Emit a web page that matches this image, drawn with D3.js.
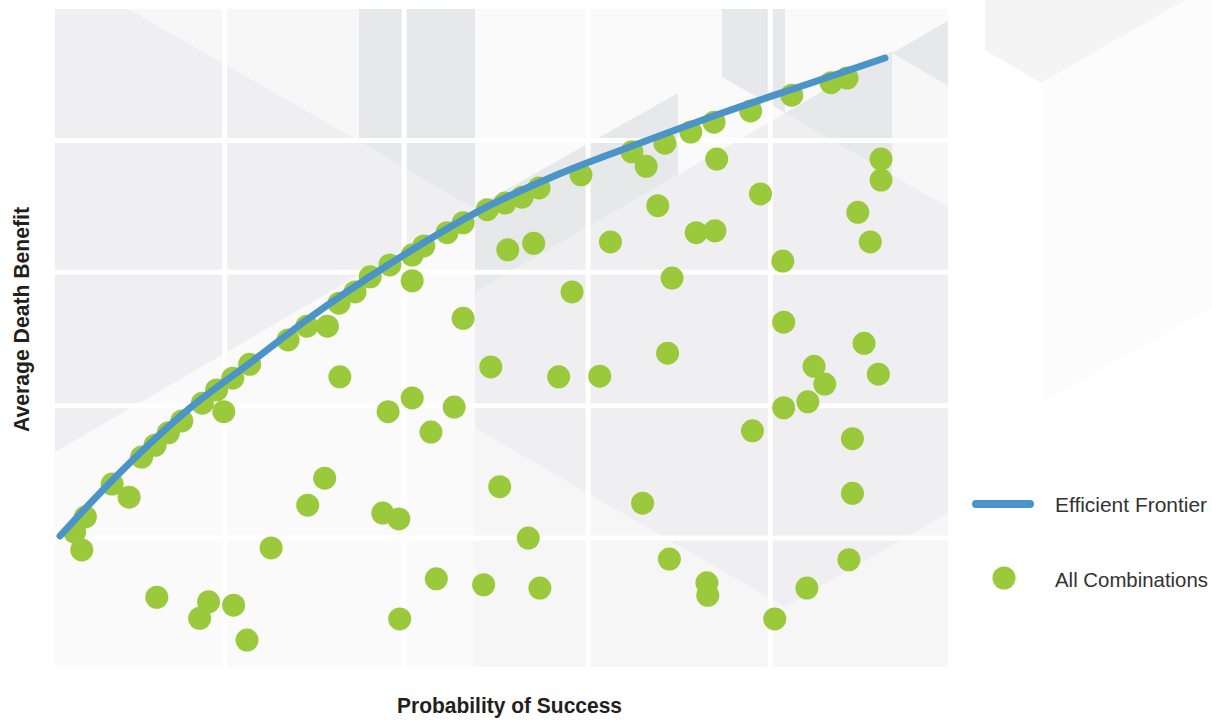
<!DOCTYPE html>
<html>
<head>
<meta charset="utf-8">
<script src="https://cdn.jsdelivr.net/npm/d3@7/dist/d3.min.js"></script>
<style>
  html, body { margin: 0; padding: 0; background: #ffffff; }
  svg { display: block; }
  .title { font-family: "Liberation Sans", Arial, sans-serif; font-weight: bold; fill: #231f20; }
  .legend-text { font-family: "Liberation Sans", Arial, sans-serif; fill: #333333; }
</style>
</head>
<body>
<svg id="chart" width="1212" height="720"></svg>
<script>
// Efficient frontier (probability of success vs. average death benefit)
const frontierX = [0.56, 5.04, 9.52, 15.12, 21.84, 28.33, 37.29, 47.03, 56.44, 65.85, 75.03, 84.32, 92.94];
const frontierY = [19.91, 26.44, 32.52, 39.36, 46.20, 52.89, 61.09, 68.99, 74.92, 79.79, 84.35, 88.60, 92.55];

// Every combination evaluated
const comboX = [2.2, 3.4, 3.0, 6.4, 8.3, 9.7, 11.2, 12.7, 14.2, 16.5, 18.1, 18.9, 19.9, 21.8, 26.1, 28.2, 30.5, 31.8, 33.6, 35.3,
  37.5, 40.0, 41.3, 43.9, 45.7, 48.4, 50.4, 52.3, 54.2, 58.9, 64.6, 66.2, 68.3, 71.2, 73.8, 77.9, 82.5, 86.9, 88.7,
  40.0, 45.7, 50.7, 53.6, 62.2, 67.5, 71.8, 73.9, 74.1, 79.0, 92.5, 92.5, 89.9, 91.3, 81.5, 81.6, 90.6, 69.1, 57.9,
  48.8, 31.9, 56.4, 61.0, 68.6, 85.0, 86.2, 92.2, 81.6, 84.3, 78.1, 89.3, 37.3, 40.0, 44.7, 42.1, 30.2, 28.3, 36.7,
  38.5, 49.8, 53.0, 65.8, 89.3, 24.2, 11.4, 17.2, 16.2, 20.0, 21.5, 42.7, 48.0, 38.6, 54.3, 68.8, 73.0, 73.1, 80.6,
  84.2, 88.9];
const comboY = [20.5, 22.8, 17.8, 27.8, 25.8, 31.9, 33.7, 35.6, 37.4, 40.1, 42.1, 38.8, 43.9, 46.0, 49.7, 51.8, 51.8, 55.3, 57.0, 59.3,
  61.1, 62.6, 64.0, 66.0, 67.5, 69.5, 70.5, 71.4, 72.8, 74.8, 78.3, 76.1, 79.6, 81.3, 82.8, 84.5, 86.9, 88.8, 89.5,
  58.7, 53.0, 63.4, 64.4, 64.6, 70.1, 66.0, 66.3, 77.2, 71.9, 77.2, 74.0, 69.1, 64.6, 61.7, 52.4, 49.2, 59.1, 57.0,
  45.6, 44.1, 44.1, 44.2, 47.7, 45.7, 43.0, 44.5, 39.4, 40.3, 35.9, 34.7, 38.8, 40.9, 39.5, 35.7, 28.7, 24.6, 23.4,
  22.5, 27.4, 19.6, 24.9, 26.4, 18.1, 10.6, 9.9, 7.4, 9.4, 4.1, 13.4, 12.5, 7.3, 12.0, 16.4, 12.8, 10.9, 7.3,
  12.0, 16.3];

// Grid divisions (unlabelled)
const gridX = [19.0, 39.1, 59.7, 80.1];
const gridY = [19.6, 39.7, 60.0, 80.0];

const xTitle = "Probability of Success";
const yTitle = "Average Death Benefit";
const legendLabels = ["Efficient Frontier", "All Combinations"];

const colors = { frontier: "#4a94c8", dot: "#9aca3c", base: "#efeff1", light: "#f7f7f7", lightest: "#fafafa", dark: "#e7e8ea", lowRight: "#f6f6f6" };

// Backdrop facets in data units: [fill, points]
const facets = [
  [colors.light,    [[8.14,100],[34.04,100],[34.04,79.94]]],
  [colors.dark,     [[34.04,100],[47.03,100],[47.03,69.6],[34.04,79.94]]],
  [colors.lightest, [[47.03,100],[100,100],[100,69.91],[81.75,84.19],[47.03,56.99]]],
  [colors.dark,     [[47.03,69.85],[69.76,87.23],[69.76,74.77],[47.03,56.99]]],
  [colors.dark,     [[74.69,100],[81.75,100],[81.75,84.19],[74.69,89.67]]],
  [colors.dark,     [[81.75,84.19],[93.73,93.62],[93.73,74.77]]],
  [colors.light,    [[93.73,93.31],[100,88.30],[100,69.91],[93.73,74.77]]],
  [colors.dark,     [[93.73,93.31],[100,98.18],[100,88.30]]],
  [colors.lightest, [[0,32.67],[47.03,69.85],[47.03,0],[0,0]]],
  [colors.lowRight, [[47.03,36.32],[81.75,9.12],[100,23.40],[100,0],[47.03,0]]]
];
// Faint ornament facets to the right of the plot
const ornaments = [
  ["#f4f4f5", [[104.14,101.4],[126.65,101.4],[110.41,88.75],[104.14,93.77]]],
  ["#fcfcfc", [[126.65,101.4],[129.6,101.4],[129.6,54.56],[110.41,40.12],[110.41,88.75]]]
];

const svg = d3.select("#chart");
const x = d3.scaleLinear().domain([0, 100]).range([55, 948]);
const y = d3.scaleLinear().domain([0, 100]).range([667, 9]);

const poly = pts => "M" + pts.map(p => x(p[0]) + "," + y(p[1])).join("L") + "Z";

svg.append("g").selectAll("path").data(ornaments).join("path")
  .attr("d", d => poly(d[1])).attr("fill", d => d[0]);

svg.append("defs").append("clipPath").attr("id", "plot-clip")
  .append("rect").attr("x", x(0)).attr("y", y(100))
  .attr("width", x(100) - x(0)).attr("height", y(0) - y(100));

const bg = svg.append("g").attr("clip-path", "url(#plot-clip)");
bg.append("rect").attr("x", x(0)).attr("y", y(100))
  .attr("width", x(100) - x(0)).attr("height", y(0) - y(100)).attr("fill", colors.base);
bg.selectAll("path.facet").data(facets).join("path").attr("class", "facet")
  .attr("d", d => poly(d[1])).attr("fill", d => d[0]);

// White grid
bg.selectAll("line.gx").data(gridX).join("line").attr("class", "gx")
  .attr("x1", d => x(d)).attr("x2", d => x(d)).attr("y1", y(100)).attr("y2", y(0))
  .attr("stroke", "#ffffff").attr("stroke-width", 5);
bg.selectAll("line.gy").data(gridY).join("line").attr("class", "gy")
  .attr("y1", d => y(d)).attr("y2", d => y(d)).attr("x1", x(0)).attr("x2", x(100))
  .attr("stroke", "#ffffff").attr("stroke-width", 5);

// All combinations
svg.append("g").selectAll("circle").data(comboX.map((v, i) => [v, comboY[i]])).join("circle")
  .attr("cx", d => x(d[0])).attr("cy", d => y(d[1])).attr("r", 11.5).attr("fill", colors.dot);

// Efficient frontier
const line = d3.line().x(d => x(d[0])).y(d => y(d[1])).curve(d3.curveMonotoneX);
svg.append("path").datum(frontierX.map((v, i) => [v, frontierY[i]]))
  .attr("d", line).attr("fill", "none").attr("stroke", colors.frontier)
  .attr("stroke-width", 7).attr("stroke-linecap", "round");

// Axis titles (condensed face)
svg.append("text").attr("class", "title").attr("x", 397).attr("y", 713)
  .attr("font-size", 22).attr("textLength", 225).attr("lengthAdjust", "spacingAndGlyphs").text(xTitle);
svg.append("text").attr("class", "title").attr("transform", "translate(29,432) rotate(-90)")
  .attr("font-size", 22).attr("textLength", 225).attr("lengthAdjust", "spacingAndGlyphs").text(yTitle);

// Legend
const lg = svg.append("g");
lg.append("line").attr("x1", 976).attr("x2", 1030).attr("y1", 504).attr("y2", 504)
  .attr("stroke", colors.frontier).attr("stroke-width", 8).attr("stroke-linecap", "round");
lg.append("circle").attr("cx", 1004).attr("cy", 578).attr("r", 11.5).attr("fill", colors.dot);
lg.selectAll("text").data(legendLabels).join("text").attr("class", "legend-text")
  .attr("x", 1055).attr("y", (d, i) => [512, 587][i]).attr("font-size", 21)
  .attr("textLength", (d, i) => [152, 153][i]).attr("lengthAdjust", "spacingAndGlyphs").text(d => d);
</script>
</body>
</html>
